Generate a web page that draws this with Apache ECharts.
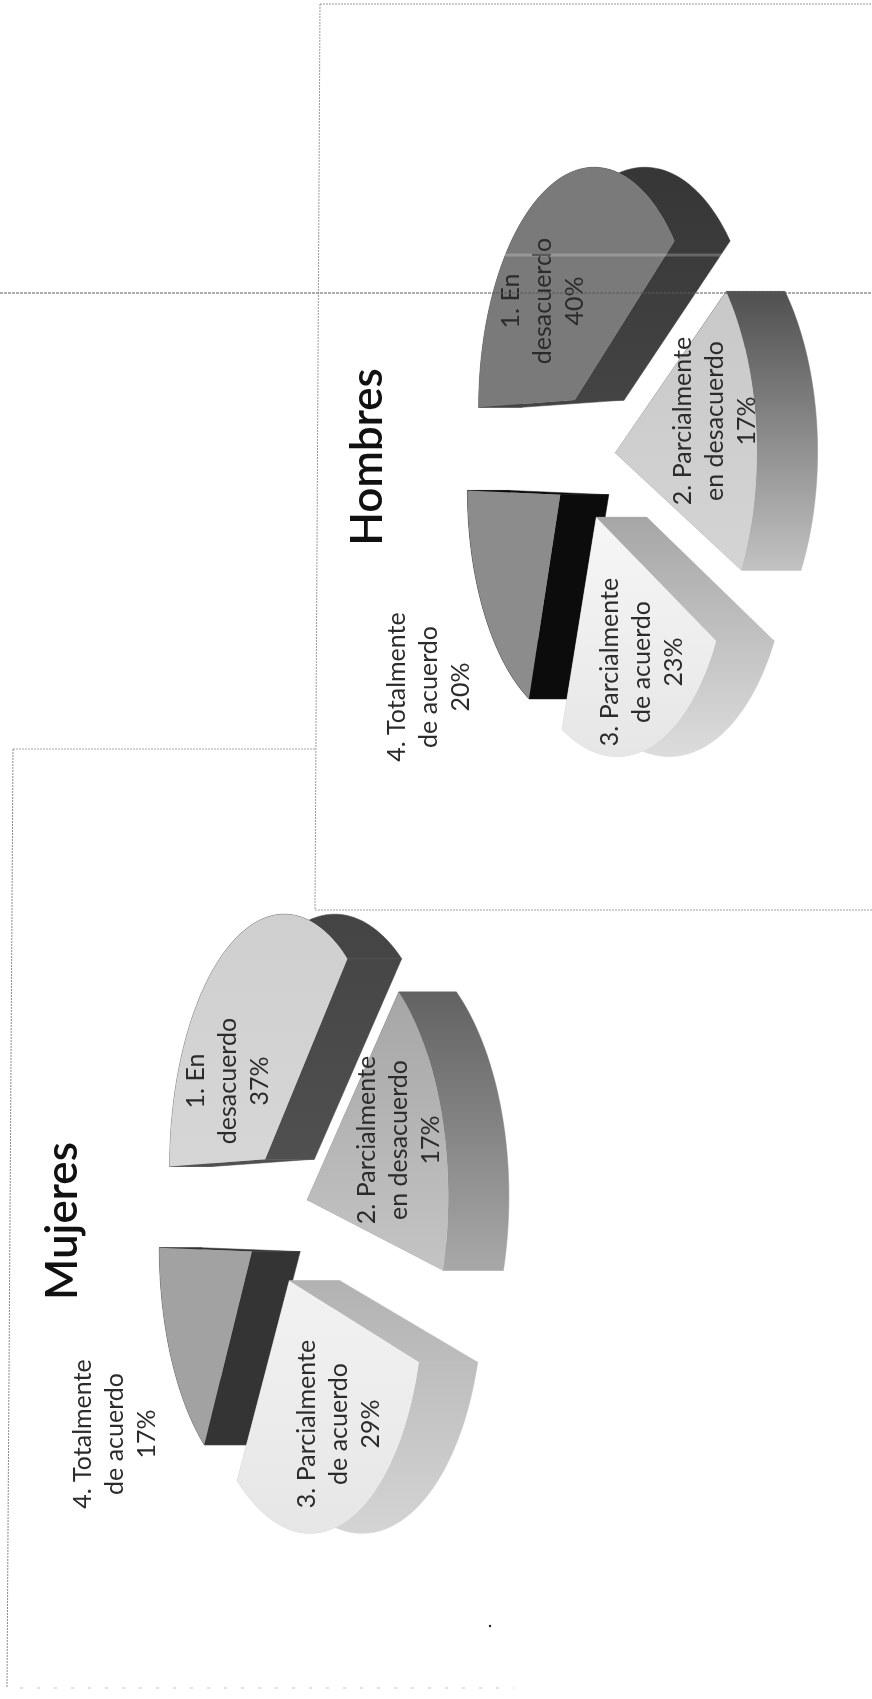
<!DOCTYPE html>
<html>
<head>
<meta charset="utf-8">
<title>Mujeres y Hombres</title>
<script src="https://cdn.jsdelivr.net/npm/echarts@6/dist/echarts.min.js"></script>
<style>
  html, body { margin: 0; padding: 0; background: #fff; }
  #chart { width: 872px; height: 1699px; }
</style>
</head>
<body>
<div id="chart"></div>
<script>
// Answer categories, as printed on the slice labels
const categoryLines = [
  ['1. En', 'desacuerdo'],
  ['2. Parcialmente', 'en desacuerdo'],
  ['3. Parcialmente', 'de acuerdo'],
  ['4. Totalmente', 'de acuerdo']
];

// Percentages per group
const mujeresValues = [37, 17, 29, 17];
const hombresValues = [40, 17, 23, 20];

// Slice colours per group: [top start, top end, wall start, wall end]
const mujeresColors = [
  ['#cfcfcf', '#d6d6d6', '#444444', '#505050'],
  ['#a6a6a6', '#c4c4c4', '#626262', '#a8a8a8'],
  ['#f2f2f2', '#e6e6e6', '#b2b2b2', '#d4d4d4'],
  ['#a2a2a2', '#a2a2a2', '#343434', '#343434']
];
const hombresColors = [
  ['#7a7a7a', '#7a7a7a', '#363636', '#444444'],
  ['#c8c8c8', '#d4d4d4', '#505050', '#c2c2c2'],
  ['#f6f6f6', '#e6e6e6', '#a6a6a6', '#dcdcdc'],
  ['#8c8c8c', '#8c8c8c', '#0c0c0c', '#0c0c0c']
];

// Label anchors (centre of each three-line block), one list per group
const mujeresLabelAnchors = [[228, 1081], [399, 1140], [339, 1424], [115, 1434]];
const hombresLabelAnchors = [[543, 301], [715, 421], [642, 662], [429, 687]];

// Perspective model of the tilted pie
const RY = 112, WALL = 50, EXPLODE = 0.27, PERSPECTIVE = 0.14;
const QUARTER = Math.PI / 2;
const TEXT_COLOR = '#2b2b2b';
const FONT = 'Lato, "Open Sans", sans-serif';

// The sheet lies on its side: the pie's "right" runs up the page and its "front" runs right.
function project(center, rx, px, py, drop) {
  const s = 1 / (1 - PERSPECTIVE * py);
  return [center[0] + (RY * py + drop) * s, center[1] - rx * px * s];
}

function makePie(name, values, colors, center, rx, anchors) {
  const total = values.reduce((a, b) => a + b, 0);
  const starts = [];
  values.reduce((acc, v, i) => { starts[i] = acc; return acc + v; }, 0);
  return {
    type: 'custom',
    name: name,
    coordinateSystem: 'none',
    silent: true,
    data: values.map((v, i) => [i, v]),
    renderItem: function (params, api) {
      const i = api.value(0), value = api.value(1);
      const a0 = starts[i] / total * Math.PI * 2;
      const a1 = (starts[i] + value) / total * Math.PI * 2;
      const mid = (a0 + a1) / 2;
      const ox = Math.sin(mid) * EXPLODE, oy = -Math.cos(mid) * EXPLODE;
      const rim = [];
      const steps = Math.max(8, Math.round((a1 - a0) * 40));
      for (let k = 0; k <= steps; k++) {
        const a = a0 + (a1 - a0) * k / steps;
        rim.push([Math.sin(a) + ox, -Math.cos(a) + oy]);
      }
      const apex = [ox, oy];
      const at = (p, drop) => project(center, rx, p[0], p[1], drop);
      const top = [at(apex, 0)].concat(rim.map(p => at(p, 0)));
      const ys = top.map(p => p[1]);
      const yLo = Math.min.apply(null, ys), yHi = Math.max.apply(null, ys);
      const c = colors[i];
      const tg = new echarts.graphic.LinearGradient(0, yLo, 0, yHi, [
        { offset: 0, color: c[0] }, { offset: 1, color: c[1] }
      ], true);
      const wg = new echarts.graphic.LinearGradient(0, yLo, 0, yHi, [
        { offset: 0, color: c[2] }, { offset: 1, color: c[3] }
      ], true);
      const depth = 10 + Math.round(oy * 10);
      const walls = [];
      // radial faces
      [rim[0], rim[rim.length - 1]].forEach(p => {
        walls.push([at(apex, 0), at(p, 0), at(p, WALL), at(apex, WALL)]);
      });
      // outer curved face
      walls.push(rim.map(p => at(p, 0)).concat(rim.slice().reverse().map(p => at(p, WALL))));
      const children = walls.map(pts => ({
        type: 'polygon', z2: depth,
        shape: { points: pts },
        style: { fill: wg, stroke: wg, lineWidth: 0.5 }
      }));
      children.push({
        type: 'polygon', z2: depth + 1,
        shape: { points: top },
        style: { fill: tg }
      });
      children.push({
        type: 'text', z2: 60,
        x: anchors[i][0], y: anchors[i][1], rotation: QUARTER,
        style: {
          text: categoryLines[i].concat([Math.round(value) + '%']).join('\n'),
          x: 0, y: 0, align: 'center', verticalAlign: 'middle',
          font: '25px ' + FONT, lineHeight: 32, fill: TEXT_COLOR
        }
      });
      return { type: 'group', children: children };
    }
  };
}

function frameLine(x1, y1, x2, y2, color, dash, width) {
  return {
    type: 'line', z: 100, silent: true,
    shape: { x1, y1, x2, y2 },
    style: { stroke: color, lineWidth: width || 1, lineDash: dash }
  };
}

function titleText(text, x, y) {
  return {
    type: 'text', z: 100, silent: true, x: x, y: y, rotation: QUARTER,
    style: {
      text: text, x: 0, y: 0, align: 'center', verticalAlign: 'middle',
      font: '600 44px ' + FONT, fill: '#111'
    }
  };
}

const chart = echarts.init(document.getElementById('chart'), null, { renderer: 'canvas' });
chart.setOption({
  backgroundColor: '#fff',
  animation: false,
  graphic: [
    titleText('Mujeres', 63, 1221),
    titleText('Hombres', 368, 457),
    frameLine(320, 4, 872, 4, '#9a9a9a', [2, 1]),
    frameLine(320, 4, 315, 910, '#9a9a9a', [2, 1]),
    frameLine(315, 910, 872, 910, '#a2a2a2', [2, 1]),
    frameLine(13, 749, 315, 749, '#a8a8a8', [2, 1]),
    frameLine(13, 749, 7, 1688, '#8a8a8a', [2, 1]),
    frameLine(20, 1688, 514, 1688, '#c4c4c4', [3, 14]),
    frameLine(0, 293, 872, 293, '#5a5a5a', [3, 1]),
    frameLine(505, 255, 725, 255, 'rgba(255,255,255,0.22)', null, 3),
    {
      type: 'circle', z: 100, silent: true,
      shape: { cx: 490, cy: 1626, r: 1.2 },
      style: { fill: '#222' }
    }
  ],
  series: [
    makePie('Mujeres', mujeresValues, mujeresColors, [277, 1219], 245, mujeresLabelAnchors),
    makePie('Hombres', hombresValues, hombresColors, [584, 459], 232, hombresLabelAnchors)
  ]
});
</script>
</body>
</html>
